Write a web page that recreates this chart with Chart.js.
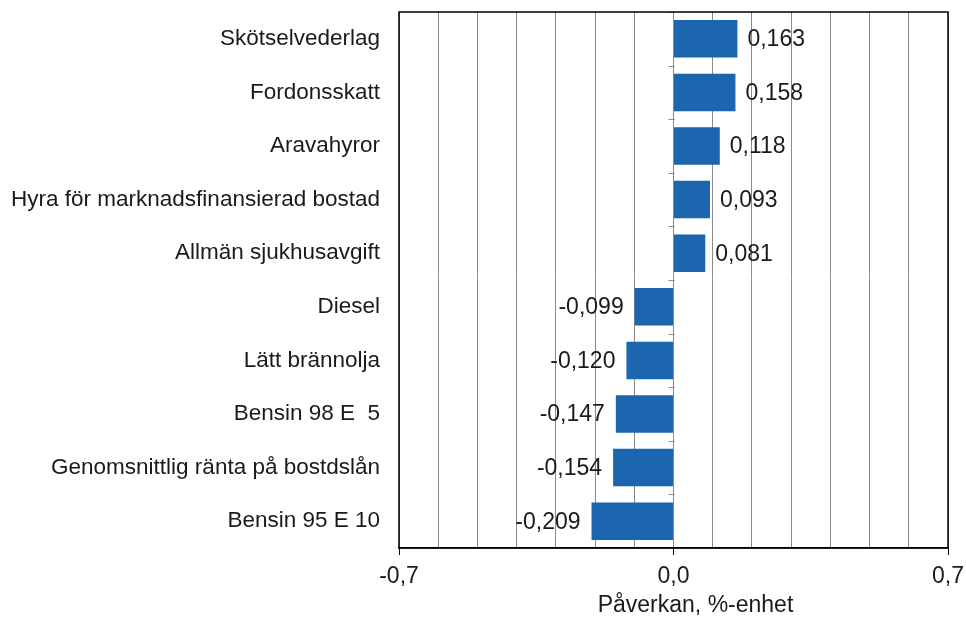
<!DOCTYPE html>
<html>
<head>
<meta charset="utf-8">
<script src="https://cdn.jsdelivr.net/npm/chart.js@4.4.1/dist/chart.umd.min.js"></script>
<style>
  html, body { margin: 0; padding: 0; background: #fff; }
  canvas { display: block; }
</style>
</head>
<body>
<canvas id="impactChart" width="966" height="623"></canvas>
<script>
const categories = [
    "Skötselvederlag",
    "Fordonsskatt",
    "Aravahyror",
    "Hyra för marknadsfinansierad bostad",
    "Allmän sjukhusavgift",
    "Diesel",
    "Lätt brännolja",
    "Bensin 98 E  5",
    "Genomsnittlig ränta på bostdslån",
    "Bensin 95 E 10"
];
const impact = [0.163, 0.158, 0.118, 0.093, 0.081, -0.099, -0.120, -0.147, -0.154, -0.209];
const axisMin = -0.7;
const axisMax = 0.7;
const labelledTicks = [-0.7, 0, 0.7];
const axisTitle = "Påverkan, %-enhet";

const FONT = "'Liberation Sans', Arial, sans-serif";
const BAR_COLOR = "#1b66ae";
const TEXT_COLOR = "#1a1a1a";

function fmt(v, digits) {
    return v.toFixed(digits).replace(".", ",");
}

function isLabelled(v) {
    return labelledTicks.some(t => Math.abs(t - v) < 1e-9);
}

const valueLabels = {
    id: "valueLabels",
    afterDatasetsDraw(chart) {
        const ctx = chart.ctx;
        const meta = chart.getDatasetMeta(0);
        ctx.save();
        ctx.font = "23px " + FONT;
        ctx.fillStyle = TEXT_COLOR;
        ctx.textBaseline = "middle";
        meta.data.forEach((bar, i) => {
            const v = impact[i];
            if (v >= 0) {
                ctx.textAlign = "left";
                ctx.fillText(fmt(v, 3), bar.x + 10, bar.y + 1);
            } else {
                ctx.textAlign = "right";
                ctx.fillText(fmt(v, 3), bar.x - 11, bar.y + 1);
            }
        });
        ctx.restore();
    }
};

const frame = {
    id: "frame",
    afterDraw(chart) {
        const { ctx, chartArea, scales } = chart;
        const x0 = Math.round(scales.x.getPixelForValue(0)) + 0.5;
        ctx.save();
        // small category ticks on the zero line
        ctx.strokeStyle = "#8a8a8a";
        ctx.lineWidth = 1;
        const y = scales.y;
        for (let i = 0; i <= categories.length; i++) {
            const yy = Math.round(y.top + (y.bottom - y.top) * i / categories.length) + 0.5;
            ctx.beginPath();
            ctx.moveTo(x0 - 6, yy);
            ctx.lineTo(x0, yy);
            ctx.stroke();
        }
        ctx.strokeStyle = "#000";
        ctx.lineWidth = 1.5;
        ctx.strokeRect(chartArea.left, chartArea.top, chartArea.right - chartArea.left, chartArea.bottom - chartArea.top);

        // axis title, sits a little right of the plot centre in the original
        ctx.font = "23px " + FONT;
        ctx.fillStyle = TEXT_COLOR;
        ctx.textAlign = "center";
        ctx.textBaseline = "alphabetic";
        ctx.fillText(axisTitle, (chartArea.left + chartArea.right) / 2 + 22, chartArea.bottom + 64);
        ctx.restore();
    }
};

new Chart(document.getElementById("impactChart"), {
    type: "bar",
    data: {
        labels: categories,
        datasets: [{
            data: impact,
            backgroundColor: BAR_COLOR,
            borderWidth: 0,
            categoryPercentage: 1,
            barPercentage: 0.7
        }]
    },
    options: {
        indexAxis: "y",
        responsive: false,
        animation: false,
        layout: { padding: { top: 12, right: 18, left: 0, bottom: 0 } },
        plugins: {
            legend: { display: false },
            tooltip: { enabled: false }
        },
        scales: {
            x: {
                min: axisMin,
                max: axisMax,
                afterFit: s => {
                    s.height = 75;
                    s.paddingLeft = 0;
                    s.paddingRight = 0;
                },
                ticks: {
                    stepSize: 0.1,
                    autoSkip: false,
                    maxRotation: 0,
                    padding: 8,
                    color: TEXT_COLOR,
                    font: { family: FONT, size: 23 },
                    callback: v => isLabelled(v) ? fmt(v, 1) : ""
                },
                grid: {
                    color: "#8a8a8a",
                    lineWidth: 1,
                    tickLength: 7,
                    tickColor: c => isLabelled(c.tick.value) ? "#000" : "rgba(0,0,0,0)"
                },
                border: { color: "#000", width: 1.5 }
            },
            y: {
                afterFit: s => {
                    s.width = 399;
                    s.paddingTop = 0;
                    s.paddingBottom = 0;
                },
                grid: { display: false, drawTicks: false },
                border: { display: false },
                ticks: {
                    padding: 19,
                    color: TEXT_COLOR,
                    font: { family: FONT, size: 22.5 }
                }
            }
        }
    },
    plugins: [valueLabels, frame]
});
</script>
</body>
</html>
